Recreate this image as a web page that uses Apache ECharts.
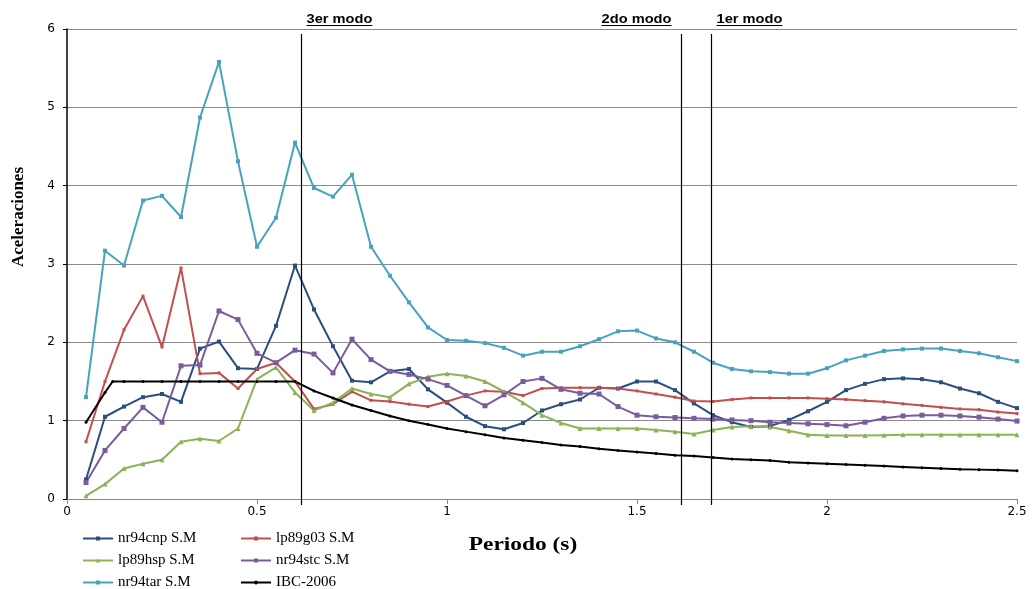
<!DOCTYPE html>
<html>
<head>
<meta charset="utf-8">
<script src="https://cdn.jsdelivr.net/npm/echarts@6/dist/echarts.min.js"></script>
<style>
  html, body { margin: 0; padding: 0; background: #ffffff; }
  #chart { width: 1032px; height: 589px; }
</style>
</head>
<body>
<div id="chart"></div>
<script>
// Periods (s) shared by the five recorded spectra
const periods = [
  0.05, 0.10, 0.15, 0.20, 0.25, 0.30, 0.35, 0.40, 0.45, 0.50,
  0.55, 0.60, 0.65, 0.70, 0.75, 0.80, 0.85, 0.90, 0.95, 1.00,
  1.05, 1.10, 1.15, 1.20, 1.25, 1.30, 1.35, 1.40, 1.45, 1.50,
  1.55, 1.60, 1.65, 1.70, 1.75, 1.80, 1.85, 1.90, 1.95, 2.00,
  2.05, 2.10, 2.15, 2.20, 2.25, 2.30, 2.35, 2.40, 2.45, 2.50
];

// Spectral accelerations per record
const nr94cnp = [
  0.25, 1.05, 1.18, 1.30, 1.34, 1.24, 1.92, 2.01, 1.67, 1.66,
  2.21, 2.98, 2.42, 1.95, 1.51, 1.49, 1.63, 1.66, 1.40, 1.23,
  1.05, 0.93, 0.89, 0.97, 1.13, 1.21, 1.27, 1.42, 1.41, 1.50,
  1.50, 1.39, 1.22, 1.07, 0.98, 0.92, 0.93, 1.01, 1.12, 1.24,
  1.39, 1.47, 1.53, 1.54, 1.53, 1.49, 1.41, 1.35, 1.24, 1.16
];
const lp89g03 = [
  0.73, 1.50, 2.16, 2.59, 1.94, 2.95, 1.60, 1.61, 1.41, 1.66,
  1.74, 1.50, 1.15, 1.21, 1.37, 1.26, 1.245, 1.21, 1.18, 1.245,
  1.32, 1.38, 1.37, 1.32, 1.41, 1.42, 1.42, 1.42, 1.41, 1.38,
  1.34, 1.30, 1.25, 1.245, 1.27, 1.29, 1.29, 1.29, 1.29, 1.28,
  1.27, 1.255, 1.24, 1.215, 1.195, 1.17, 1.15, 1.14, 1.11, 1.09
];
const lp89hsp = [
  0.04, 0.19, 0.39, 0.45, 0.50, 0.73, 0.77, 0.74, 0.90, 1.53,
  1.68, 1.36, 1.13, 1.23, 1.41, 1.34, 1.30, 1.47, 1.56, 1.60,
  1.57, 1.50, 1.37, 1.23, 1.07, 0.97, 0.90, 0.90, 0.90, 0.90,
  0.88, 0.86, 0.83, 0.88, 0.92, 0.93, 0.92, 0.87, 0.82, 0.81,
  0.81, 0.81, 0.815, 0.82, 0.82, 0.82, 0.82, 0.82, 0.82, 0.82
];
const nr94stc = [
  0.21, 0.62, 0.90, 1.17, 0.98, 1.70, 1.71, 2.40, 2.29, 1.86,
  1.74, 1.90, 1.85, 1.61, 2.04, 1.78, 1.63, 1.59, 1.53, 1.45,
  1.32, 1.19, 1.33, 1.50, 1.54, 1.40, 1.35, 1.34, 1.18, 1.07,
  1.05, 1.04, 1.03, 1.02, 1.01, 1.00, 0.98, 0.97, 0.96, 0.95,
  0.935, 0.98, 1.03, 1.06, 1.07, 1.07, 1.06, 1.045, 1.02, 0.995
];
const nr94tar = [
  1.30, 3.17, 2.98, 3.81, 3.87, 3.60, 4.87, 5.58, 4.31, 3.22,
  3.59, 4.55, 3.97, 3.86, 4.14, 3.22, 2.85, 2.51, 2.19, 2.03,
  2.02, 1.99, 1.93, 1.83, 1.88, 1.88, 1.95, 2.04, 2.14, 2.15,
  2.05, 2.00, 1.88, 1.74, 1.66, 1.63, 1.62, 1.60, 1.60, 1.67,
  1.77, 1.83, 1.89, 1.91, 1.92, 1.92, 1.89, 1.86, 1.81, 1.76
];

// IBC-2006 design spectrum (own period list, includes the T0 corner)
const ibcPeriods = [
  0.05, 0.10, 0.12, 0.15, 0.20, 0.25, 0.30, 0.35, 0.40, 0.45, 0.50,
  0.55, 0.60, 0.65, 0.70, 0.75, 0.80, 0.85, 0.90, 0.95, 1.00,
  1.05, 1.10, 1.15, 1.20, 1.25, 1.30, 1.35, 1.40, 1.45, 1.50,
  1.55, 1.60, 1.65, 1.70, 1.75, 1.80, 1.85, 1.90, 1.95, 2.00,
  2.05, 2.10, 2.15, 2.20, 2.25, 2.30, 2.35, 2.40, 2.45, 2.50
];
const ibc2006 = [
  0.98, 1.36, 1.50, 1.50, 1.50, 1.50, 1.50, 1.50, 1.50, 1.50, 1.50,
  1.50, 1.50, 1.38, 1.29, 1.20, 1.13, 1.06, 1.00, 0.95, 0.90,
  0.86, 0.82, 0.78, 0.75, 0.72, 0.69, 0.67, 0.64, 0.62, 0.60,
  0.58, 0.56, 0.55, 0.53, 0.51, 0.50, 0.49, 0.47, 0.46, 0.45,
  0.44, 0.43, 0.42, 0.41, 0.40, 0.39, 0.38, 0.375, 0.37, 0.36
];

// Modal periods of the structure
const modeNames = ['3er modo', '2do modo', '1er modo'];
const modePeriods = [0.617, 1.616, 1.695];

// Axis ticks
const xTicks = [0, 0.5, 1, 1.5, 2, 2.5];
const yTicks = [0, 1, 2, 3, 4, 5, 6];

// Series names in legend reading order (two columns, three rows)
const seriesNames = ['nr94cnp S.M', 'lp89g03 S.M', 'lp89hsp S.M', 'nr94stc S.M', 'nr94tar S.M', 'IBC-2006'];

const pair = (xs, ys) => xs.map((x, i) => [x, ys[i]]);

const chart = echarts.init(document.getElementById('chart'), null, { renderer: 'canvas' });

const lineSeries = (name, xs, ys, color, symbol, size) => ({
  name: name,
  type: 'line',
  data: pair(xs, ys),
  symbol: symbol,
  symbolSize: size,
  showSymbol: true,
  lineStyle: { color: color, width: 2 },
  itemStyle: { color: color, borderWidth: 0 },
  emphasis: { disabled: true },
  animation: false,
  z: 3
});

const serifFont = '"Liberation Serif", "DejaVu Serif", serif';
const sansFont = '"DejaVu Sans", Verdana, sans-serif';

const legendText = { fontFamily: serifFont, fontSize: 15, color: '#000', lineHeight: 15 };

// One legend per entry so the two columns line up
const legendColumns = [82, 240];
const legendRowTop = 531;
const legendRowPitch = 22;
const legends = seriesNames.map((name, i) => ({
  data: [name],
  orient: 'horizontal',
  left: legendColumns[i % 2],
  top: legendRowTop + Math.floor(i / 2) * legendRowPitch,
  padding: 0,
  itemWidth: 30,
  itemHeight: 5,
  itemGap: 0,
  textStyle: legendText,
  selectedMode: false
}));

chart.setOption({
  animation: false,
  backgroundColor: '#ffffff',
  grid: { left: 67, right: 15, top: 29, bottom: 90, containLabel: false },
  xAxis: {
    type: 'value',
    min: xTicks[0],
    max: xTicks[xTicks.length - 1],
    interval: 0.5,
    axisLine: { show: true, onZero: false, lineStyle: { color: '#868686', width: 1 } },
    axisTick: { show: true, inside: false, length: 5, lineStyle: { color: '#868686' } },
    axisLabel: { fontFamily: sansFont, fontSize: 12, color: '#000', margin: 7 },
    splitLine: { show: false }
  },
  yAxis: {
    type: 'value',
    min: yTicks[0],
    max: yTicks[yTicks.length - 1],
    interval: 1,
    axisLine: { show: true, lineStyle: { color: '#000', width: 1.5 } },
    axisTick: { show: true, inside: false, length: 4, lineStyle: { color: '#000' } },
    axisLabel: { fontFamily: sansFont, fontSize: 12, color: '#000', margin: 12 },
    splitLine: { show: true, lineStyle: { color: '#8a8a8a', width: 1 } }
  },
  legend: legends,
  series: [
    lineSeries(seriesNames[0], periods, nr94cnp, '#2A4F7E', 'rect', 4),
    lineSeries(seriesNames[1], periods, lp89g03, '#C0504D', 'rect', 3),
    lineSeries(seriesNames[2], periods, lp89hsp, '#8DB255', 'triangle', 5),
    lineSeries(seriesNames[3], periods, nr94stc, '#7A5C9C', 'rect', 5),
    lineSeries(seriesNames[4], periods, nr94tar, '#47A3BD', 'rect', 4),
    lineSeries(seriesNames[5], ibcPeriods, ibc2006, '#000000', 'circle', 3)
  ]
});

// Modal period lines, labels and axis titles drawn over the plot
function drawOverlays() {
  const measure = document.createElement('canvas').getContext('2d');
  const labelFont = 'bold 12px "Liberation Sans", Arial, sans-serif';
  const labelStretch = 1.22;
  measure.font = labelFont;
  const yTop = chart.convertToPixel({ gridIndex: 0 }, [0, yTicks[yTicks.length - 1]])[1];
  const yBottom = chart.convertToPixel({ gridIndex: 0 }, [0, yTicks[0]])[1];
  const aligns = ['right', 'left', 'right'];
  const elements = [];

  modePeriods.forEach((p, i) => {
    const x = Math.round(chart.convertToPixel({ gridIndex: 0 }, [p, 0])[0]) + 0.5;
    elements.push({
      type: 'line', silent: true, z: 10,
      shape: { x1: x, y1: yTop + 5, x2: x, y2: yBottom + 6 },
      style: { stroke: '#000', lineWidth: 1.2 }
    });
    const w = measure.measureText(modeNames[i]).width * labelStretch;
    const tx = aligns[i] === 'right' ? x + 5 : x - 10 - w;
    elements.push({
      type: 'text', silent: true, z: 10, x: tx, y: 20, scaleX: labelStretch,
      style: { text: modeNames[i], font: labelFont, fill: '#000', verticalAlign: 'middle', align: 'left' }
    });
    elements.push({
      type: 'line', silent: true, z: 10,
      shape: { x1: tx, y1: 25.5, x2: tx + w, y2: 25.5 },
      style: { stroke: '#000', lineWidth: 1 }
    });
  });

  elements.push({
    type: 'text', silent: true, x: 523, y: 545, scaleX: 1.3,
    style: {
      text: 'Periodo (s)', font: 'bold 18px ' + serifFont,
      fill: '#000', align: 'center', verticalAlign: 'middle'
    }
  });
  elements.push({
    type: 'text', silent: true, x: 19, y: 217, rotation: Math.PI / 2,
    style: {
      text: 'Aceleraciones', font: 'bold 17px ' + serifFont,
      fill: '#000', align: 'center', verticalAlign: 'middle'
    }
  });

  chart.setOption({ graphic: { elements: elements } });
}
drawOverlays();
</script>
</body>
</html>
